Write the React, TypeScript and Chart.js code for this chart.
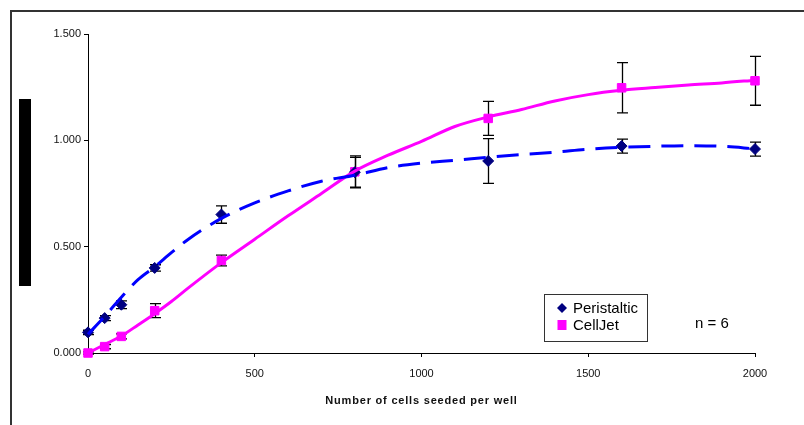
import React, { useEffect, useRef } from "react";
import { Chart, registerables } from "chart.js";

Chart.register(...registerables);

// Measured points (cells seeded per well)
const cells = [0, 50, 100, 200, 400, 800, 1200, 1600, 2000];
const peristaltic = [0.097, 0.164, 0.227, 0.4, 0.651, 0.85, 0.903, 0.973, 0.959];
const peristalticErr = [0.01, 0.012, 0.018, 0.015, 0.041, 0.07, 0.105, 0.033, 0.033];
const cellJet = [0.0, 0.03, 0.078, 0.199, 0.435, 0.852, 1.103, 1.247, 1.28];
const cellJetErr = [0.005, 0.01, 0.012, 0.033, 0.025, 0.075, 0.08, 0.118, 0.115];

// Trend lines
const trendX = [0, 50, 100, 150, 200, 250, 300, 400, 500, 600, 700, 800, 900, 1000, 1100, 1200, 1300, 1400, 1500, 1600, 1700, 1800, 1900, 2000];
const peristalticTrend = [0.088, 0.172, 0.262, 0.345, 0.405, 0.472, 0.534, 0.633, 0.706, 0.762, 0.808, 0.836, 0.872, 0.893, 0.906, 0.92, 0.933, 0.944, 0.958, 0.967, 0.972, 0.975, 0.972, 0.96];
const cellJetTrend = [0.0, 0.04, 0.08, 0.132, 0.185, 0.242, 0.305, 0.425, 0.535, 0.645, 0.75, 0.855, 0.93, 0.995, 1.065, 1.11, 1.145, 1.185, 1.215, 1.235, 1.248, 1.26, 1.27, 1.283];

const yTicks = [0, 0.5, 1.0, 1.5];
const xTicks = [0, 500, 1000, 1500, 2000];

const legendLabels = ["Peristaltic", "CellJet"];
const xTitle = "Number of cells seeded per well";
const noteText = "n = 6";

const FONT = "'Liberation Sans', Arial, sans-serif";

export default function App() {
  const ref = useRef<HTMLCanvasElement>(null);

  useEffect(() => {
    const canvas = ref.current!;
    const overlay = {
      id: "overlay",
      beforeDatasetsDraw(chart: any) {
        const ctx = chart.ctx;
        const xs = chart.scales.x;
        const ys = chart.scales.y;
        ctx.save();
        ctx.strokeStyle = "#000";
        ctx.lineWidth = 1.3;
        const draw = (vals: number[], errs: number[]) => {
          cells.forEach((c, i) => {
            const e = errs[i];
            if (!e) return;
            const px = Math.round(xs.getPixelForValue(c)) + 0.5;
            const t = ys.getPixelForValue(vals[i] + e);
            const b = ys.getPixelForValue(vals[i] - e);
            ctx.beginPath();
            ctx.moveTo(px, t);
            ctx.lineTo(px, b);
            ctx.moveTo(px - 5.5, t);
            ctx.lineTo(px + 5.5, t);
            ctx.moveTo(px - 5.5, b);
            ctx.lineTo(px + 5.5, b);
            ctx.stroke();
          });
        };
        draw(peristaltic, peristalticErr);
        draw(cellJet, cellJetErr);
        ctx.restore();
      },
      afterDraw(chart: any) {
        const ctx = chart.ctx;
        const area = chart.chartArea;
        ctx.save();
        // outer frame (top & left)
        ctx.strokeStyle = "#333";
        ctx.lineWidth = 2;
        ctx.beginPath();
        ctx.moveTo(11, 425);
        ctx.lineTo(11, 11);
        ctx.lineTo(804, 11);
        ctx.stroke();
        // black bar at left
        ctx.fillStyle = "#000";
        ctx.fillRect(19, 99, 12, 187);
        // x axis title
        ctx.fillStyle = "#111";
        ctx.font = `bold 11px ${FONT}`;
        (ctx as any).letterSpacing = "0.8px";
        ctx.textAlign = "center";
        ctx.textBaseline = "alphabetic";
        ctx.fillText(xTitle, (area.left + area.right) / 2, 403.5);
        (ctx as any).letterSpacing = "0px";
        // legend
        ctx.strokeStyle = "#333";
        ctx.lineWidth = 1;
        ctx.fillStyle = "#fff";
        ctx.fillRect(544.5, 294.5, 103, 47);
        ctx.strokeRect(544.5, 294.5, 103, 47);
        ctx.fillStyle = "#000080";
        ctx.beginPath();
        ctx.moveTo(562, 303);
        ctx.lineTo(567, 308);
        ctx.lineTo(562, 313);
        ctx.lineTo(557, 308);
        ctx.closePath();
        ctx.fill();
        ctx.fillStyle = "#FF00FF";
        ctx.fillRect(557.5, 320, 9, 10);
        ctx.fillStyle = "#000";
        ctx.font = `15px ${FONT}`;
        ctx.textAlign = "left";
        ctx.fillText(legendLabels[0], 573, 313);
        ctx.fillText(legendLabels[1], 573, 330);
        ctx.fillText(noteText, 695, 328);
        ctx.restore();
      },
    };

    const chart = new Chart(canvas, {
      type: "scatter",
      data: {
        datasets: [
          {
            label: "Peristaltic trend",
            type: "line",
            data: trendX.map((x, i) => ({ x, y: peristalticTrend[i] })),
            borderColor: "#0000FF",
            borderWidth: 3,
            borderDash: [22, 11],
            pointRadius: 0,
            cubicInterpolationMode: "monotone",
            fill: false,
            clip: false,
          },
          {
            label: "CellJet trend",
            type: "line",
            data: trendX.map((x, i) => ({ x, y: cellJetTrend[i] })),
            borderColor: "#FF00FF",
            borderWidth: 3,
            pointRadius: 0,
            cubicInterpolationMode: "monotone",
            fill: false,
            clip: false,
          },
          {
            label: legendLabels[0],
            data: cells.map((x, i) => ({ x, y: peristaltic[i] })),
            pointStyle: "rectRot",
            pointRadius: 5.5,
            backgroundColor: "#000080",
            borderColor: "#000080",
            borderWidth: 1,
            showLine: false,
            clip: false,
          },
          {
            label: legendLabels[1],
            data: cells.map((x, i) => ({ x, y: cellJet[i] })),
            pointStyle: "rect",
            pointRadius: 6,
            backgroundColor: "#FF00FF",
            borderColor: "#FF00FF",
            borderWidth: 1,
            showLine: false,
            clip: false,
          },
        ],
      },
      options: {
        responsive: false,
        animation: false,
        events: [],
        layout: { padding: { left: 0, right: 49, top: 34, bottom: 0 } },
        plugins: { legend: { display: false }, tooltip: { enabled: false }, title: { display: false } },
        scales: {
          x: {
            type: "linear",
            min: 0,
            max: 2000,
            afterFit: (s: any) => { s.height = 72; },
            afterBuildTicks: (s: any) => { s.ticks = xTicks.map((v) => ({ value: v })); },
            grid: { drawOnChartArea: false, drawTicks: true, tickLength: 4, tickColor: "#000", tickWidth: 1 },
            border: { color: "#000", width: 1 },
            ticks: { padding: 10, color: "#111", font: { family: FONT, size: 11 }, callback: (v: any) => String(v) },
          },
          y: {
            type: "linear",
            min: 0,
            max: 1.5,
            afterFit: (s: any) => { s.width = 88; },
            afterBuildTicks: (s: any) => { s.ticks = yTicks.map((v) => ({ value: v })); },
            grid: { drawOnChartArea: false, drawTicks: true, tickLength: 4, tickColor: "#000", tickWidth: 1 },
            border: { color: "#000", width: 1 },
            ticks: { padding: 3, color: "#111", font: { family: FONT, size: 11 }, callback: (v: any) => Number(v).toFixed(3) },
          },
        },
      },
      plugins: [overlay],
    } as any);
    return () => chart.destroy();
  }, []);

  return (
    <div style={{ position: "absolute", left: 0, top: 0, width: 804, height: 425, background: "#fff" }}>
      <canvas ref={ref} width={804} height={425} style={{ display: "block" }} />
    </div>
  );
}
